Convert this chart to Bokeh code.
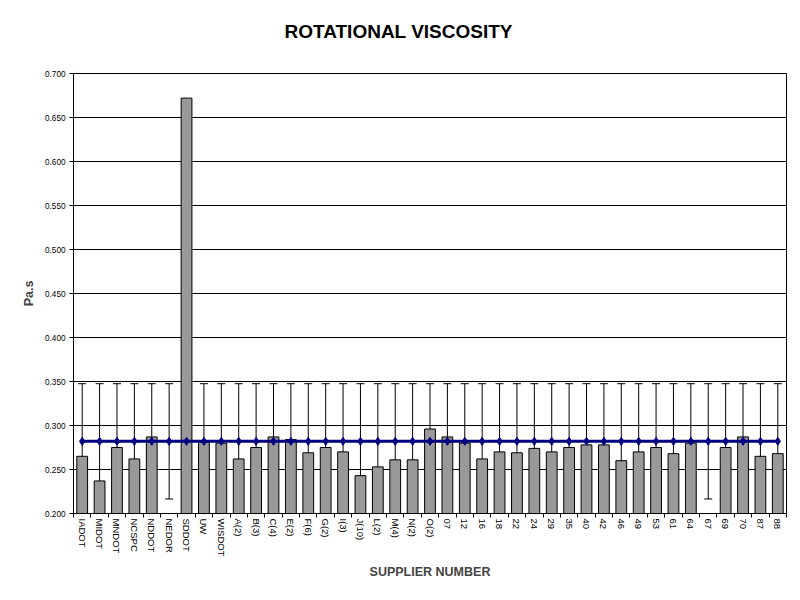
from bokeh.plotting import figure
from bokeh.models import (Range1d, LinearAxis, FixedTicker, Title,
                          NumeralTickFormatter, Whisker, ColumnDataSource, TeeHead)
from bokeh.embed import file_html
from bokeh.resources import INLINE

suppliers = ["IADOT", "MIDOT", "MNDOT", "NCSPC", "NDDOT", "NEDOR", "SDDOT", "UW", "WISDOT",
             "A(2)", "B(3)", "C(4)", "E(2)", "F(6)", "G(2)", "I(3)", "J(10)", "L(2)", "M(4)",
             "N(2)", "O(2)", "07", "12", "16", "18", "22", "24", "29", "35", "40", "42", "46",
             "49", "53", "61", "64", "67", "69", "70", "87", "88"]
viscosity = [0.265, 0.237, 0.275, 0.262, 0.287, None, 0.672, 0.281, 0.280,
             0.262, 0.275, 0.287, 0.284, 0.269, 0.275, 0.270, 0.243, 0.253, 0.261,
             0.261, 0.296, 0.287, 0.280, 0.262, 0.270, 0.269, 0.274, 0.270, 0.275, 0.278, 0.278, 0.260,
             0.270, 0.275, 0.268, 0.280, None, 0.275, 0.287, 0.265, 0.268]
mean_viscosity = 0.282
error_half = 0.0655
y_ticks = [0.200, 0.250, 0.300, 0.350, 0.400, 0.450, 0.500, 0.550, 0.600, 0.650, 0.700]

FONT = "Liberation Sans"

n = len(suppliers)
centers = [i + 0.5 for i in range(n)]
bounds = list(range(n + 1))

bar_x = [c for c, v in zip(centers, viscosity) if v is not None]
bar_top = [v for v in viscosity if v is not None]
bar_src = ColumnDataSource(dict(x=bar_x, top=bar_top))

mean_y = [mean_viscosity for _ in suppliers]
mean_src = ColumnDataSource(dict(
    x=centers, y=mean_y,
    upper=[m + error_half for m in mean_y],
    lower=[m - error_half for m in mean_y]))

p = figure(x_range=Range1d(0, n), y_range=Range1d(0.2, 0.7),
           width=792, height=592, output_backend="svg", toolbar_location=None,
           x_axis_location=None, y_axis_location="left",
           min_border_left=73, min_border_right=6, min_border_top=73, min_border_bottom=79)

p.background_fill_color = "white"
p.border_fill_color = "white"
p.outline_line_color = "black"
p.outline_line_width = 1

p.title.text = "ROTATIONAL VISCOSITY"
p.title.align = "left"
p.title.offset = 211
p.title.text_font = FONT
p.title.text_font_size = "19px"
p.title.text_font_style = "bold"
p.title.text_color = "black"
p.title.standoff = 0

# empty spacer between the title and the plot area
p.add_layout(Title(text=" ", text_font_size="10px", standoff=19), "above")

# y axis
yax = p.yaxis[0]
yax.ticker = FixedTicker(ticks=y_ticks)
yax.formatter = NumeralTickFormatter(format="0.000")
yax.major_label_text_font = FONT
yax.major_label_text_font_size = "8.2px"
yax.major_label_text_color = "black"
yax.major_tick_in = 0
yax.major_tick_out = 4
yax.major_label_standoff = 4
yax.minor_tick_line_color = None
yax.axis_line_color = "black"
yax.axis_label = "Pa.s"
yax.axis_label_text_font = FONT
yax.axis_label_text_font_size = "12.5px"
yax.axis_label_text_font_style = "bold"
yax.axis_label_standoff = 6

p.ygrid.ticker = FixedTicker(ticks=y_ticks)
p.ygrid.grid_line_color = "black"
p.ygrid.grid_line_width = 1
p.xgrid.visible = False

# x axis: tick marks between categories
tick_axis = LinearAxis(ticker=FixedTicker(ticks=bounds),
                       major_tick_in=0, major_tick_out=4,
                       minor_tick_line_color=None,
                       major_label_text_font_size="0px",
                       major_label_overrides={b: "" for b in bounds},
                       major_label_standoff=0,
                       axis_line_color="black")
label_axis = LinearAxis(ticker=FixedTicker(ticks=centers),
                        major_label_overrides={c: s for c, s in zip(centers, suppliers)},
                        major_label_orientation="vertical",
                        axis_line_color=None, major_tick_line_color=None,
                        minor_tick_line_color=None,
                        major_tick_in=0, major_tick_out=0,
                        major_label_standoff=1,
                        major_label_text_font=FONT,
                        major_label_text_font_size="9.5px",
                        major_label_text_color="black",
                        axis_label="SUPPLIER NUMBER",
                        axis_label_text_font=FONT,
                        axis_label_text_font_size="12.5px",
                        axis_label_text_font_style="bold",
                        axis_label_standoff=6)
p.add_layout(tick_axis, "below")
p.add_layout(label_axis, "below")

p.vbar(x="x", top="top", bottom=0.2, width=0.62, source=bar_src,
       fill_color="#999999", line_color="black", line_width=1)

whisker = Whisker(source=mean_src, base="x", upper="upper", lower="lower",
                  line_color="black", line_width=1,
                  upper_head=TeeHead(size=8, line_color="black", line_width=1),
                  lower_head=TeeHead(size=8, line_color="black", line_width=1))
p.add_layout(whisker)

p.line(x="x", y="y", source=mean_src, line_color="#000080", line_width=3)
p.scatter(x="x", y="y", source=mean_src, marker="diamond", size=8,
          fill_color="#000080", line_color="#000080")

open("out.html", "w").write(file_html(p, INLINE))
